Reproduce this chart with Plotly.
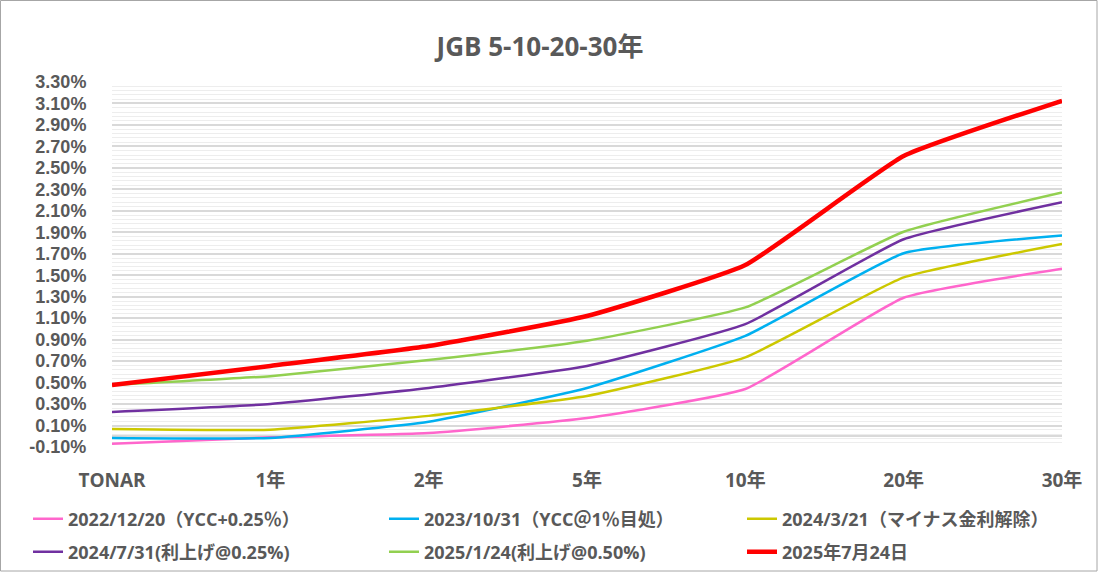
import plotly.graph_objects as go

# JGB yield curves (%)
MATURITIES = ["TONAR", "1年", "2年", "5年", "10年", "20年", "30年"]

Y_2022_12_20 = [-0.07, -0.01, 0.03, 0.17, 0.44, 1.29, 1.56]
Y_2023_10_31 = [-0.015, -0.015, 0.135, 0.45, 0.935, 1.705, 1.87]
Y_2024_03_21 = [0.068, 0.06, 0.19, 0.375, 0.735, 1.48, 1.79]
Y_2024_07_31 = [0.227, 0.30, 0.45, 0.655, 1.045, 1.835, 2.18]
Y_2025_01_24 = [0.477, 0.56, 0.71, 0.89, 1.20, 1.905, 2.27]
Y_2025_07_24 = [0.477, 0.655, 0.84, 1.12, 1.595, 2.61, 3.125]

SERIES_NAMES = [
    "2022/12/20（YCC+0.25％）",
    "2023/10/31（YCC＠1％目処）",
    "2024/3/21（マイナス金利解除）",
    "2024/7/31(利上げ@0.25%)",
    "2025/1/24(利上げ@0.50%)",
    "2025年7月24日",
]
SERIES_VALUES = [Y_2022_12_20, Y_2023_10_31, Y_2024_03_21, Y_2024_07_31, Y_2025_01_24, Y_2025_07_24]
COLORS = ["#FF66CC", "#00B0F0", "#CCC800", "#7030A0", "#92D050", "#FF0000"]
WIDTHS = [2.5, 2.5, 2.5, 2.5, 2.5, 4.5]

Y_TICKS = [round(-0.1 + 0.2 * i, 2) for i in range(18)]

FONT = "Open Sans, Noto Sans CJK JP, sans-serif"
TICK_FONT = "Liberation Sans, Arial, sans-serif"
GREY = "#595959"

W, H = 1098, 572
L, R, T, B = 112, 36, 82, 125
PW, PH = W - L - R, H - T - B

# legend slot positions (px): text left edge, row centre
LEGEND_POS = [(68, 519), (424, 519), (782, 519), (68, 552), (424, 552), (782, 552)]


def px_x(px):
    return (px - L) / PW


def px_y(py):
    return (H - B - py) / PH


fig = go.Figure()
legends = {}
for i, (name, vals) in enumerate(zip(SERIES_NAMES, SERIES_VALUES)):
    key = "legend" if i == 0 else f"legend{i + 1}"
    fig.add_trace(go.Scatter(
        x=MATURITIES, y=vals, name=name, mode="lines",
        line=dict(color=COLORS[i], width=WIDTHS[i], shape="spline", smoothing=0.4),
        legend=key,
    ))
    tx, ty = LEGEND_POS[i]
    legends[key] = dict(
        orientation="h", xref="container", yref="container",
        x=(tx - 40) / W, y=1 - ty / H, xanchor="left", yanchor="middle",
        font=dict(family=FONT, size=18, color=GREY, weight="bold"),
        bgcolor="rgba(0,0,0,0)", borderwidth=0,
    )

fig.update_layout(
    width=W, height=H,
    margin=dict(l=L, r=R, t=T, b=B, autoexpand=False),
    paper_bgcolor="white", plot_bgcolor="white",
    font=dict(family=FONT, color=GREY),
    title=dict(text="<b>JGB 5-10-20-30年</b>", x=540 / W, xref="container", xanchor="center",
               y=1 - 47 / H, yanchor="middle",
               font=dict(family=FONT, size=26, color=GREY)),
    showlegend=True,
    **legends,
    xaxis=dict(
        type="category", range=[0, 6], showgrid=False, showline=False, zeroline=False,
        ticks="outside", ticklen=16, tickcolor="rgba(0,0,0,0)",
        tickfont=dict(family=FONT, size=19, color=GREY, weight="bold"),
    ),
    yaxis=dict(
        range=[-0.1, 3.3], tickmode="array", tickvals=Y_TICKS,
        ticktext=[f"{v:.2f}%" for v in Y_TICKS],
        showgrid=True, gridcolor="#D9D9D9", gridwidth=1.5,
        zeroline=True, zerolinecolor="#D9D9D9", zerolinewidth=1.5,
        showline=False, ticks="outside", ticklen=21, tickcolor="rgba(0,0,0,0)",
        tickfont=dict(family=TICK_FONT, size=18, color=GREY, weight="bold"),
        minor=dict(tick0=-0.1, dtick=0.04, showgrid=True, gridcolor="#EDEDED", gridwidth=1),
    ),
    shapes=[dict(type="rect", xref="paper", yref="paper",
                 x0=px_x(0.5), x1=px_x(1097), y0=px_y(571), y1=px_y(0.5),
                 line=dict(color="#A6A6A6", width=1), fillcolor="rgba(0,0,0,0)", layer="below")],
)

fig.write_html("out.html", config={"displayModeBar": False},
               post_script="document.body.style.margin = '0';")
